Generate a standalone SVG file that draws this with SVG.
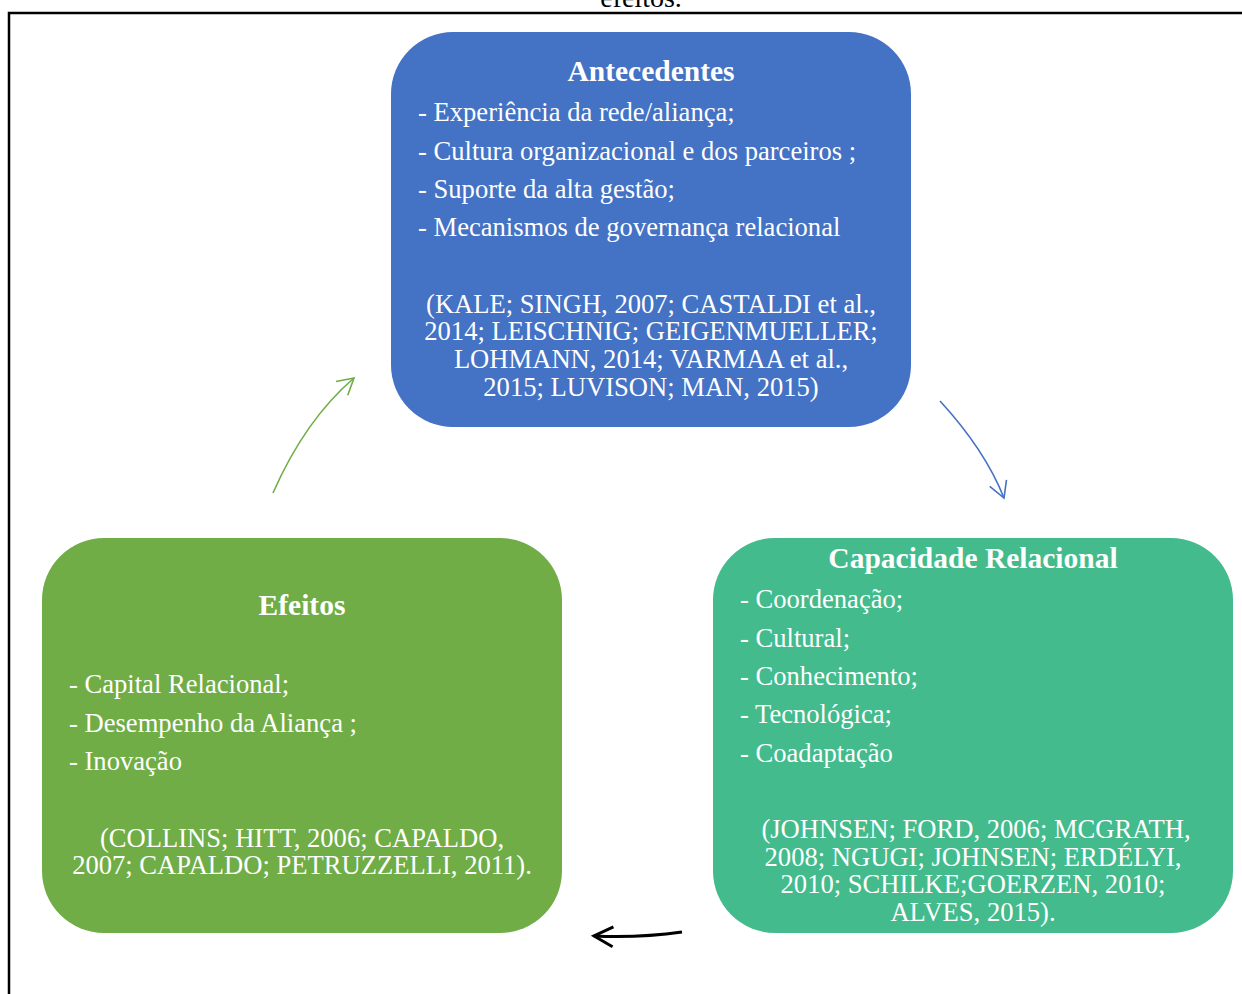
<svg xmlns="http://www.w3.org/2000/svg" width="1242" height="994" viewBox="0 0 1242 994">
<style>
.t{font-family:"Liberation Serif","Times New Roman",serif;fill:#fff;font-size:26.6px}
.h{font-weight:bold;font-size:29.5px;text-anchor:middle}
.c{text-anchor:middle}
</style>
<defs>
<marker id="mg" viewBox="-20 -12 24 24" refX="0" refY="0" markerWidth="24" markerHeight="24" markerUnits="userSpaceOnUse" orient="auto"><path d="M-16,-9 L0,0 L-16,9" fill="none" stroke="#70AD47" stroke-width="1.6"/></marker>
<marker id="mb" viewBox="-20 -12 24 24" refX="0" refY="0" markerWidth="24" markerHeight="24" markerUnits="userSpaceOnUse" orient="auto"><path d="M-16,-9 L0,0 L-16,9" fill="none" stroke="#4472C4" stroke-width="1.6"/></marker>
<marker id="mk" viewBox="-22 -13 26 26" refX="0" refY="0" markerWidth="26" markerHeight="26" markerUnits="userSpaceOnUse" orient="auto"><path d="M-19,-10 L0,0 L-19,10" fill="none" stroke="#000" stroke-width="3"/></marker>
</defs>
<rect width="1242" height="994" fill="#fff"/>
<text x="641" y="7" font-family="Liberation Serif, serif" font-size="28" text-anchor="middle" fill="#000">efeitos.</text>
<path d="M9,1000 V13 H1250" fill="none" stroke="#000" stroke-width="2.5"/>
<g id="antecedentes">
<rect x="391" y="32" width="520" height="395" rx="62" fill="#4472C4"/>
<text class="t h" x="651" y="81">Antecedentes</text>
<text class="t" x="418" y="121">- Experiência da rede/aliança;</text>
<text class="t" x="418" y="160">- Cultura organizacional e dos parceiros ;</text>
<text class="t" x="418" y="198">- Suporte da alta gestão;</text>
<text class="t" x="418" y="236">- Mecanismos de governança relacional</text>
<text class="t c" x="651" y="313">(KALE; SINGH, 2007; CASTALDI et al.,</text>
<text class="t c" x="651" y="340">2014; LEISCHNIG; GEIGENMUELLER;</text>
<text class="t c" x="651" y="368">LOHMANN, 2014; VARMAA et al.,</text>
<text class="t c" x="651" y="396">2015; LUVISON; MAN, 2015)</text>
</g>
<g id="capacidade">
<rect x="713" y="538" width="520" height="395" rx="62" fill="#43BB8C"/>
<text class="t h" x="973" y="568">Capacidade Relacional</text>
<text class="t" x="740" y="608">- Coordenação;</text>
<text class="t" x="740" y="647">- Cultural;</text>
<text class="t" x="740" y="685">- Conhecimento;</text>
<text class="t" x="740" y="723">- Tecnológica;</text>
<text class="t" x="740" y="762">- Coadaptação</text>
<text class="t c" x="976" y="838">(JOHNSEN; FORD, 2006; MCGRATH,</text>
<text class="t c" x="973" y="866">2008; NGUGI; JOHNSEN; ERDÉLYI,</text>
<text class="t c" x="973" y="893">2010; SCHILKE;GOERZEN, 2010;</text>
<text class="t c" x="973" y="921">ALVES, 2015).</text>
</g>
<g id="efeitos">
<rect x="42" y="538" width="520" height="395" rx="62" fill="#70AD47"/>
<text class="t h" x="302" y="615">Efeitos</text>
<text class="t" x="69" y="693">- Capital Relacional;</text>
<text class="t" x="69" y="732">- Desempenho da Aliança ;</text>
<text class="t" x="69" y="770">- Inovação</text>
<text class="t c" x="302" y="847">(COLLINS; HITT, 2006; CAPALDO,</text>
<text class="t c" x="302" y="874">2007; CAPALDO; PETRUZZELLI, 2011).</text>
</g>
<g id="connectors" fill="none">
<path d="M273,493 Q305,420 354,378" stroke="#70AD47" stroke-width="1.6" marker-end="url(#mg)"/>
<path d="M940,401 Q985,450 1004,498" stroke="#4472C4" stroke-width="1.6" marker-end="url(#mb)"/>
<path d="M682,932 Q640,938 594,936" stroke="#000" stroke-width="3" marker-end="url(#mk)"/>
</g>
</svg>
